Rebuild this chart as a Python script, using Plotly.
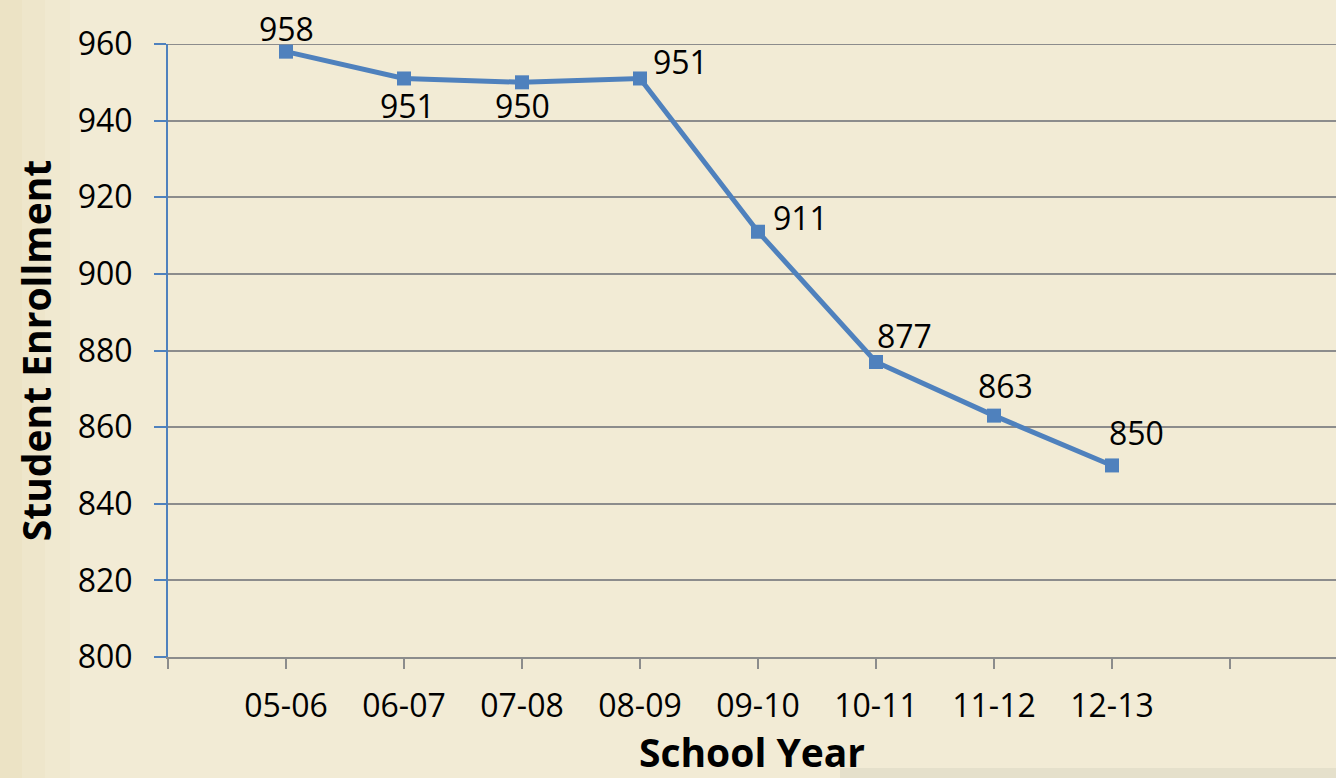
import plotly.graph_objects as go

school_years = ["05-06", "06-07", "07-08", "08-09", "09-10", "10-11", "11-12", "12-13"]
enrollment = [958, 951, 950, 951, 911, 877, 863, 850]
y_ticks = [800, 820, 840, 860, 880, 900, 920, 940, 960]

# data-label offsets (pixels) relative to each point: style only
label_dx = [0, 3, 0, 40, 42, 28, 11, 24]
label_dy = [23, -27, -23, 17, 14, 26, 30, 33]

FONT = "Open Sans"
BLUE = "#4F81BD"
BG = "#F2EBD5"
GRID = "#8C8C8C"

xs = list(range(len(school_years)))
tickvals = [-1] + xs + [len(school_years)]
ticktext = [""] + school_years + [""]

W, H = 1336, 778
L, T, B = 168, 44, 121
PW = W - L
PH = H - T - B

fig = go.Figure()
fig.add_trace(go.Scatter(
    x=xs, y=enrollment,
    mode="lines+markers",
    line=dict(color=BLUE, width=5),
    marker=dict(symbol="square", size=14, color=BLUE),
    cliponaxis=False,
    showlegend=False,
))

for x, y, dx, dy in zip(xs, enrollment, label_dx, label_dy):
    fig.add_annotation(
        x=x, y=y, text=str(y), showarrow=False,
        xshift=dx, yshift=dy,
        font=dict(family=FONT, size=32, color="black"),
    )

# top gridline (plotly drops the grid line at the very edge)
fig.add_shape(type="line", xref="paper", yref="y", x0=0, x1=1,
              y0=y_ticks[-1], y1=y_ticks[-1], line=dict(color=GRID, width=2), layer="below")

# subtle paper texture on the left edge and bottom right
for w, op in [(70, 0.10), (45, 0.12), (22, 0.15)]:
    fig.add_shape(type="rect", xref="paper", yref="paper",
                  x0=-L / PW, x1=(-L + w) / PW, y0=-B / PH, y1=(PH + T) / PH,
                  fillcolor="#E6D9AA", opacity=op, line=dict(width=0), layer="below")
fig.add_shape(type="rect", xref="paper", yref="paper",
              x0=(840 - L) / PW, x1=1, y0=-B / PH, y1=(-B + 10) / PH,
              fillcolor="#CFCABA", opacity=0.35, line=dict(width=0), layer="below")

fig.update_layout(
    width=W, height=H,
    margin=dict(l=L, r=0, t=T, b=B),
    paper_bgcolor=BG, plot_bgcolor=BG,
    font=dict(family=FONT, color="black"),
)
fig.update_xaxes(
    range=[-1, (1336 - 286) / 118],
    tickmode="array", tickvals=tickvals, ticktext=ticktext,
    showgrid=False, zeroline=False,
    showline=True, linecolor=GRID, linewidth=2,
    ticks="outside", ticklen=10, tickwidth=2, tickcolor=GRID,
    tickfont=dict(family=FONT, size=32, color="black"),
    ticklabelstandoff=10,
    title=dict(text="<b>School Year</b>", font=dict(family=FONT, size=39, color="black"), standoff=13),
)
fig.update_yaxes(
    range=[800, 960],
    tickmode="array", tickvals=y_ticks,
    showgrid=True, gridcolor=GRID, gridwidth=2,
    zeroline=False,
    showline=True, linecolor=BLUE, linewidth=2,
    ticks="outside", ticklen=12, tickwidth=2, tickcolor=BLUE,
    tickfont=dict(family=FONT, size=32, color="black"),
    ticklabelstandoff=15,
    title=dict(text="<b>Student Enrollment</b>", font=dict(family=FONT, size=39, color="black"), standoff=14),
)

fig.write_html(
    "out.html",
    config={"displayModeBar": False},
    post_script="document.body.style.margin='0';document.body.style.background='#F2EBD5';",
)
